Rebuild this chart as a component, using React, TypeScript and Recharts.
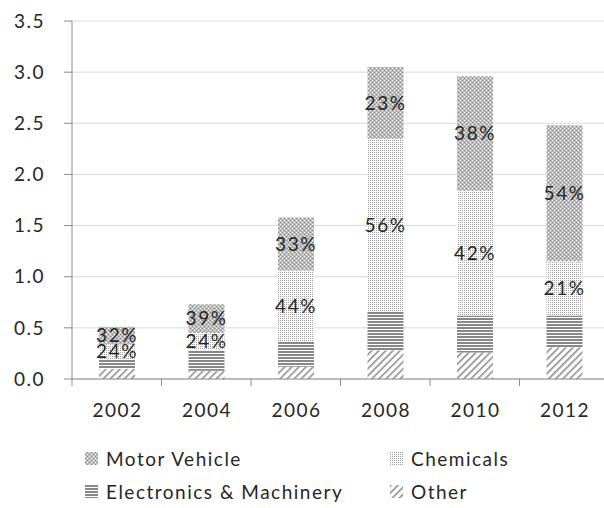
import React from "react";
import {
  Bar,
  BarChart,
  CartesianGrid,
  LabelList,
  Legend,
  XAxis,
  YAxis,
} from "recharts";

// values (trillions, stacked bottom -> top)
const years = ["2002", "2004", "2006", "2008", "2010", "2012"];
const other = [0.1, 0.08, 0.12, 0.28, 0.26, 0.31];
const electronics = [0.1, 0.2, 0.25, 0.38, 0.36, 0.31];
const chemicals = [0.14, 0.17, 0.69, 1.69, 1.22, 0.53];
const motorVehicle = [0.17, 0.28, 0.52, 0.7, 1.12, 1.33];
const motorLabels = ["32%", "39%", "33%", "23%", "38%", "54%"];
const chemLabels = ["24%", "24%", "44%", "56%", "42%", "21%"];
const yTicks = [0, 0.5, 1, 1.5, 2, 2.5, 3, 3.5];
const legendOrder = ["Motor Vehicle", "Chemicals", "Electronics & Machinery", "Other"];

const data = years.map((year, i) => ({
  year,
  other: other[i],
  electronics: electronics[i],
  chemicals: chemicals[i],
  motor: motorVehicle[i],
  motorLabel: motorLabels[i],
  chemLabel: chemLabels[i],
}));

const FONT = "Lato, 'DejaVu Sans', sans-serif";
const TEXT = "#262626";
const AXIS = "#8c8c8c";
const FS = 19;
const LS = 1.5;

const XTick = (props: any) => {
  const { x, y, payload, index } = props;
  const half = payload.offset ?? 0;
  return (
    <g>
      <text
        x={x + LS / 2}
        y={y + 38}
        textAnchor="middle"
        fill={TEXT}
        fontSize={FS}
        fontFamily={FONT}
        letterSpacing={LS}
      >
        {payload.value}
      </text>
      <line x1={x + half} y1={y} x2={x + half} y2={y + 7} stroke={AXIS} />
      {index === 0 && <line x1={x - half} y1={y} x2={x - half} y2={y + 7} stroke={AXIS} />}
    </g>
  );
};

const LegendBox = (props: any) => {
  const items = [...(props.payload || [])].sort(
    (a: any, b: any) => legendOrder.indexOf(a.value) - legendOrder.indexOf(b.value)
  );
  return (
    <div
      style={{
        display: "grid",
        gridTemplateColumns: "305px auto",
        gridAutoRows: "33px",
        paddingLeft: 85,
        height: 66,
        boxSizing: "border-box",
        fontFamily: FONT,
        fontSize: FS,
        letterSpacing: LS,
        color: TEXT,
      }}
    >
      {items.map((it: any) => (
        <div key={it.value} style={{ display: "flex", alignItems: "center" }}>
          <svg width={13} height={13} style={{ marginRight: 8 }}>
            <rect width={13} height={13} fill={it.color} />
          </svg>
          <span>{it.value}</span>
        </div>
      ))}
    </div>
  );
};

const Patterns = () => (
  <svg width={0} height={0} style={{ position: "absolute" }}>
    <defs>
      <pattern id="pMotor" width={4} height={4} patternUnits="userSpaceOnUse">
        <rect width={4} height={4} fill="#bcbcbc" />
        <rect x={0} y={0} width={1} height={1} fill="#ffffff" />
        <rect x={2} y={2} width={1} height={1} fill="#ffffff" />
        <rect x={2} y={0} width={1} height={1} fill="#8a8a8a" />
        <rect x={0} y={2} width={1} height={1} fill="#8a8a8a" />
      </pattern>
      <pattern id="pChem" width={2} height={2} patternUnits="userSpaceOnUse">
        <rect width={2} height={2} fill="#ffffff" />
        <rect width={1} height={1} fill="#a0a0a0" />
      </pattern>
      <pattern id="pElec" width={3} height={3} patternUnits="userSpaceOnUse">
        <rect width={3} height={3} fill="#ffffff" />
        <rect width={3} height={2} fill="#888888" />
      </pattern>
      <pattern
        id="pOther"
        width={5}
        height={5}
        patternUnits="userSpaceOnUse"
        patternTransform="rotate(45)"
      >
        <rect width={5} height={5} fill="#ffffff" />
        <rect width={1.6} height={5} fill="#8e8e8e" />
      </pattern>
    </defs>
  </svg>
);

export default function App() {
  return (
    <div
      style={{
        position: "absolute",
        left: 0,
        top: 0,
        width: 604,
        height: 508,
        overflow: "hidden",
        background: "#fff",
      }}
    >
      <Patterns />
      <BarChart
        width={609}
        height={508}
        data={data}
        margin={{ top: 21, right: 0, bottom: 0, left: 0 }}
        style={{ fontFamily: FONT }}
      >
        <CartesianGrid vertical={false} stroke="#d9d9d9" />
        <XAxis
          dataKey="year"
          height={63}
          stroke={AXIS}
          tickLine={false}
          tickSize={0}
          tickMargin={0}
          tick={<XTick />}
        />
        <YAxis
          width={72}
          domain={[0, 3.5]}
          ticks={yTicks}
          interval={0}
          stroke={AXIS}
          tickSize={8}
          tickMargin={19}
          tickFormatter={(v: number) => v.toFixed(1)}
          tick={{ fill: TEXT, fontSize: FS, fontFamily: FONT, letterSpacing: LS }}
        />
        <Legend
          verticalAlign="bottom"
          content={<LegendBox />}
          wrapperStyle={{ left: 0, width: 604, bottom: 0 }}
        />
        <Bar dataKey="other" name="Other" stackId="a" barSize={36} fill="url(#pOther)" isAnimationActive={false} />
        <Bar dataKey="electronics" name="Electronics & Machinery" stackId="a" barSize={36} fill="url(#pElec)" isAnimationActive={false} />
        <Bar dataKey="chemicals" name="Chemicals" stackId="a" barSize={36} fill="url(#pChem)" isAnimationActive={false}>
          <LabelList dataKey="chemLabel" position="center" fill={TEXT} fontSize={FS} fontFamily={FONT} letterSpacing={LS} />
        </Bar>
        <Bar dataKey="motor" name="Motor Vehicle" stackId="a" barSize={36} fill="url(#pMotor)" isAnimationActive={false}>
          <LabelList dataKey="motorLabel" position="center" fill={TEXT} fontSize={FS} fontFamily={FONT} letterSpacing={LS} />
        </Bar>
      </BarChart>
    </div>
  );
}
